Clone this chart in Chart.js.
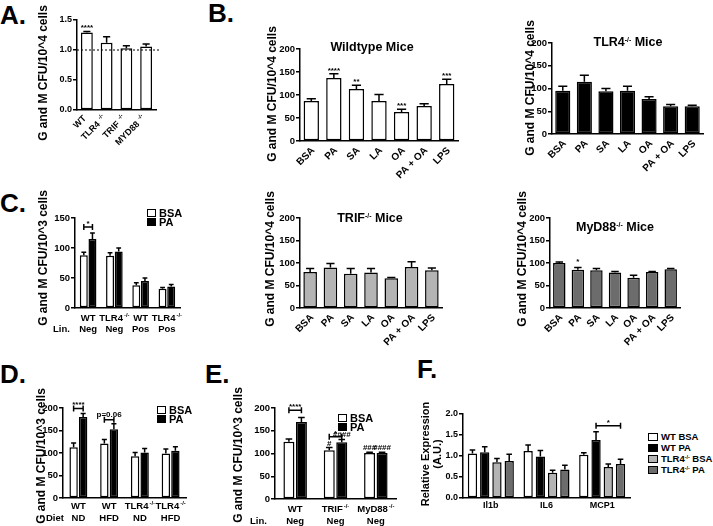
<!DOCTYPE html>
<html>
<head>
<meta charset="utf-8">
<script src="https://cdn.jsdelivr.net/npm/chart.js@4.4.0/dist/chart.umd.min.js"></script>
<style>
html, body { margin: 0; padding: 0; background: #fff; }
#fig { position: relative; width: 713px; height: 526px; overflow: hidden;
       font-family: "Liberation Sans", Arial, sans-serif; font-weight: bold; color: #000; }
#fig canvas { position: absolute; }
.t { position: absolute; white-space: nowrap; line-height: 1; }
.letter { font-size: 26px; transform: translateY(-50%); }
.ytitle { font-size: 12px; transform: translate(-50%, -50%) rotate(-90deg); }
.ptitle { font-size: 12.5px; transform: translate(-50%, -50%); }
.lab { font-size: 9.5px; transform: translateY(-50%); }
.leg { font-size: 11px; transform: translateY(-50%); }
.box { position: absolute; border: 1.5px solid #000; box-sizing: border-box; }
sup { font-size: 0.55em; vertical-align: 0.6em; line-height: 0; }
</style>
</head>
<body>
<div id="fig"></div>
<script>
// ---- data ----  ("^" in a label marks a small raised part)
// A
const aLabels = ['WT', 'TLR4^-/-', 'TRIF^-/-', 'MYD88^-/-'];
const aValues = [1.29, 1.12, 1.03, 1.06];
const aErrors = [0.02, 0.10, 0.04, 0.04];
const aStars = ['****', '', '', ''];
const aRefLine = 1.0;

// B (fatty acid treatments, per genotype)
const treatments = ['BSA', 'PA', 'SA', 'LA', 'OA', 'PA + OA', 'LPS'];
const wtValues = [87, 137, 113, 87, 63, 76, 124];
const wtErrors = [5, 9, 8, 14, 6, 5, 10];
const wtStars = ['', '****', '**', '', '***', '', '***'];
const tlr4Values = [95, 115, 94, 95, 77, 61, 61];
const tlr4Errors = [10, 14, 6, 10, 5, 4, 2];
const trifValues = [80, 90, 76, 79, 66, 91, 84];
const trifErrors = [8, 9, 12, 9, 2, 12, 5];
const myd88Values = [100, 85, 84, 79, 67, 80, 86];
const myd88Errors = [2, 5, 4, 2, 6, 1, 2];
const myd88Stars = ['', '*', '', '', '', '', ''];

// C
const cLabels = [['WT', 'Neg'], ['TLR4^-/-', 'Neg'], ['WT', 'Pos'], ['TLR4^-/-', 'Pos']];
const cBsa = [88, 87, 38, 32];
const cBsaErr = [5, 5, 4, 2];
const cPa = [115, 94, 45, 36];
const cPaErr = [10, 6, 5, 3];

// D
const dLabels = [['WT', 'ND'], ['WT', 'HFD'], ['TLR4^-/-', 'ND'], ['TLR4^-/-', 'HFD']];
const dBsa = [113, 121, 93, 99];
const dBsaErr = [9, 9, 8, 10];
const dPa = [180, 153, 101, 105];
const dPaErr = [8, 12, 9, 9];

// E
const eLabels = [['WT', 'Neg'], ['TRIF^-/-', 'Neg'], ['MyD88^-/-', 'Neg']];
const eBsa = [126, 107, 101];
const eBsaErr = [6, 6, 2];
const ePa = [169, 125, 101];
const ePaErr = [10, 6, 2];

// F
const genes = ['Il1b', 'IL6', 'MCP1'];
const fWtBsa = [1.06, 1.12, 1.03];
const fWtBsaErr = [0.08, 0.14, 0.05];
const fWtPa = [1.09, 0.99, 1.38];
const fWtPaErr = [0.13, 0.14, 0.20];
const fTlrBsa = [0.85, 0.60, 0.74];
const fTlrBsaErr = [0.09, 0.06, 0.07];
const fTlrPa = [0.88, 0.68, 0.81];
const fTlrPaErr = [0.16, 0.10, 0.11];

const WHITE = '#ffffff', BLACK = '#000000', LIGHT = '#b4b4b4', DARK = '#6c6c6c';

Chart.defaults.font.family = '"Liberation Sans", Arial, sans-serif';
Chart.defaults.font.weight = 'bold';
Chart.defaults.color = '#000';

const fig = document.getElementById('fig');
const PAD_T = 12;
const FONT = '"Liberation Sans", Arial';

// error bars, stars, brackets, reference line
const marksPlugin = {
    id: 'marks',
    afterDatasetsDraw(chart, args, opts) {
        const ctx = chart.ctx;
        const ys = chart.scales.y;
        const area = chart.chartArea;
        ctx.save();
        ctx.strokeStyle = '#000';
        ctx.fillStyle = '#000';
        ctx.lineWidth = 1.5;

        chart.data.datasets.forEach((ds, di) => {
            if (!ds.errors) return;
            chart.getDatasetMeta(di).data.forEach((bar, i) => {
                const top = ys.getPixelForValue(ds.data[i] + ds.errors[i]);
                const half = bar.width * 0.3;
                ctx.beginPath();
                ctx.moveTo(bar.x, bar.y);
                ctx.lineTo(bar.x, top);
                ctx.moveTo(bar.x - half, top);
                ctx.lineTo(bar.x + half, top);
                ctx.stroke();
            });
        });

        if (opts.refLine != null) {
            const y = ys.getPixelForValue(opts.refLine);
            ctx.lineWidth = 1;
            ctx.setLineDash([2, 2]);
            ctx.beginPath();
            ctx.moveTo(area.left, y);
            ctx.lineTo(area.right + 3, y);
            ctx.stroke();
            ctx.setLineDash([]);
            ctx.lineWidth = 1.5;
        }

        ctx.textAlign = 'center';
        ctx.textBaseline = 'alphabetic';
        (opts.stars || []).forEach(s => {
            const ds = chart.data.datasets[s.d];
            const bar = chart.getDatasetMeta(s.d).data[s.i];
            const top = ys.getPixelForValue(ds.data[s.i] + (ds.errors ? ds.errors[s.i] : 0));
            ctx.font = 'bold ' + (s.size || 8) + 'px ' + FONT;
            ctx.fillText(s.text, bar.x, top - (s.gap != null ? s.gap : 1));
        });

        (opts.brackets || []).forEach(b => {
            const x1 = chart.getDatasetMeta(b.a[0]).data[b.a[1]].x;
            const x2 = chart.getDatasetMeta(b.b[0]).data[b.b[1]].x;
            const y = ys.getPixelForValue(b.v);
            ctx.beginPath();
            ctx.moveTo(x1, y); ctx.lineTo(x2, y);
            ctx.moveTo(x1, y - 3); ctx.lineTo(x1, y + 3);
            ctx.moveTo(x2, y - 3); ctx.lineTo(x2, y + 3);
            ctx.stroke();
            ctx.font = 'bold ' + (b.size || 8) + 'px ' + FONT;
            ctx.fillText(b.text, (x1 + x2) / 2, y - (b.gap != null ? b.gap : 1));
        });
        ctx.restore();
    }
};

// category labels (straight or at 45 degrees) with a small raised "-/-",
// placed at the x scale's tick pixels
const supLabelsPlugin = {
    id: 'supLabels',
    afterDraw(chart, args, opts) {
        if (!opts.on) return;
        const ctx = chart.ctx, xs = chart.scales.x;
        const size = opts.size || 9.5;
        const font = 'bold ' + size + 'px ' + FONT;
        const supFont = 'bold ' + (size * 0.62) + 'px ' + FONT;
        ctx.save();
        ctx.fillStyle = '#000';
        ctx.textBaseline = 'middle';
        ctx.textAlign = 'left';
        chart.data.labels.forEach((label, i) => {
            const cx = xs.getPixelForTick(i);
            [].concat(label).forEach((row, r) => {
                const parts = row.split('^');
                ctx.font = font;
                const w0 = ctx.measureText(parts[0]).width;
                let w1 = 0;
                if (parts[1]) { ctx.font = supFont; w1 = ctx.measureText(parts[1]).width + (opts.supGap || 1); }
                const raise = size * 0.32;
                if (opts.rot) {
                    ctx.save();
                    ctx.translate(cx + (opts.dx || 0), xs.top + opts.first);
                    ctx.rotate(-Math.PI / 4);
                    ctx.font = font;
                    ctx.fillText(parts[0], -(w0 + w1), 0);
                    if (parts[1]) {
                        ctx.font = supFont;
                        ctx.fillText(parts[1], -w1 + (opts.supGap || 1), -raise);
                    }
                    ctx.restore();
                } else {
                    const y = xs.top + opts.first + r * opts.gap;
                    const x = cx - (w0 + w1) / 2;
                    ctx.font = font;
                    ctx.fillText(parts[0], x, y);
                    if (parts[1]) {
                        ctx.font = supFont;
                        ctx.fillText(parts[1], x + w0 + (opts.supGap || 1), y - raise);
                    }
                }
            });
        });
        ctx.restore();
    }
};

function place(g) {
    const c = document.createElement('canvas');
    const w = (g.x1 - g.x0) + g.padL + g.padR;
    const h = (g.yB - g.yT) + PAD_T + g.padB;
    c.width = w; c.height = h;
    c.style.left = (g.x0 - g.padL) + 'px';
    c.style.top = (g.yT - PAD_T) + 'px';
    c.style.width = w + 'px';
    c.style.height = h + 'px';
    fig.appendChild(c);
    return c;
}

function barSet(data, errors, color, barPct, catPct) {
    return {
        data: data, errors: errors,
        backgroundColor: color, borderColor: '#000', borderWidth: 1.5, borderSkipped: false,
        barPercentage: barPct, categoryPercentage: catPct
    };
}

function barChart(g, labels, datasets, marks) {
    const canvas = place(g);
    return new Chart(canvas, {
        type: 'bar',
        data: { labels: labels, datasets: datasets },
        options: {
            responsive: false,
            animation: false,
            devicePixelRatio: 1,
            layout: { padding: { top: PAD_T, right: g.padR, left: 0, bottom: 0 } },
            plugins: {
                legend: { display: false }, tooltip: { enabled: false },
                marks: marks || {},
                supLabels: g.sup || {}
            },
            scales: {
                x: {
                    grid: { display: false, drawTicks: false },
                    border: { color: '#000', width: 1.5 },
                    ticks: Object.assign({
                        color: '#000', autoSkip: false, padding: 3,
                        minRotation: 0, maxRotation: 0,
                        display: !g.sup,
                        font: { size: 10, weight: 'bold', lineHeight: 1.1 }
                    }, g.xTicks || {}),
                    afterFit: s => { s.height = g.padB; }
                },
                y: {
                    min: 0, max: g.yMax,
                    grid: { drawOnChartArea: false, tickLength: 4, color: '#000', lineWidth: 1.5 },
                    border: { color: '#000', width: 1.5 },
                    ticks: {
                        stepSize: g.yStep, color: '#000', padding: 1,
                        font: { size: g.yFont || 9.5, weight: 'bold' },
                        callback: g.dec ? (v => Number(v).toFixed(1)) : (v => v)
                    },
                    afterFit: s => { s.width = g.padL; }
                }
            }
        },
        plugins: [marksPlugin, supLabelsPlugin]
    });
}

function starList(stars, d) {
    const out = [];
    stars.forEach((t, i) => { if (t) out.push({ d: d, i: i, text: t }); });
    return out;
}

// A
barChart({ x0: 77, x1: 156, yT: 20, yB: 110, padL: 36, padR: 6, padB: 55, yMax: 1.5, yStep: 0.5, dec: true, yFont: 9,
           sup: { on: true, rot: true, first: 7, dx: -2, size: 9, supGap: 3 } },
    aLabels, [barSet(aValues, aErrors, WHITE, 0.6, 1)],
    { refLine: aRefLine, stars: starList(aStars, 0) });

// B
const bGeo = { padL: 36, padR: 8, padB: 45, yMax: 200, yStep: 50,
               sup: { on: true, rot: true, first: 8, dx: 2, size: 10 } };
barChart(Object.assign({ x0: 300, x1: 458, yT: 49, yB: 141 }, bGeo),
    treatments, [barSet(wtValues, wtErrors, WHITE, 0.68, 1)], { stars: starList(wtStars, 0) });
barChart(Object.assign({ x0: 552, x1: 703, yT: 43, yB: 134 }, bGeo),
    treatments, [barSet(tlr4Values, tlr4Errors, BLACK, 0.7, 1)]);
barChart(Object.assign({ x0: 300, x1: 442, yT: 218, yB: 308 }, bGeo),
    treatments, [barSet(trifValues, trifErrors, LIGHT, 0.67, 1)]);
barChart(Object.assign({ x0: 550, x1: 680, yT: 218, yB: 308 }, bGeo),
    treatments, [barSet(myd88Values, myd88Errors, DARK, 0.67, 1)],
    { stars: starList(myd88Stars, 0).map(s => Object.assign(s, { gap: 4 })) });

// C
barChart({ x0: 75, x1: 180, yT: 218, yB: 308, padL: 36, padR: 14, padB: 32, yMax: 150, yStep: 50,
           sup: { on: true, first: 10, gap: 11.5 } },
    cLabels, [barSet(cBsa, cBsaErr, WHITE, 0.92, 0.66), barSet(cPa, cPaErr, BLACK, 0.92, 0.66)],
    { brackets: [{ a: [0, 0], b: [1, 0], v: 135, text: '*' }] });

// D
barChart({ x0: 63, x1: 186, yT: 408, yB: 498, padL: 30, padR: 14, padB: 28, yMax: 200, yStep: 50,
           sup: { on: true, first: 8.5, gap: 11.5 } },
    dLabels, [barSet(dBsa, dBsaErr, WHITE, 0.88, 0.62), barSet(dPa, dPaErr, BLACK, 0.88, 0.62)],
    { brackets: [{ a: [0, 0], b: [1, 0], v: 199, text: '****' },
                 { a: [0, 1], b: [1, 1], v: 174, text: 'p=0.06', gap: 3 }] });

// E
barChart({ x0: 275, x1: 396, yT: 408, yB: 499, padL: 36, padR: 16, padB: 27, yMax: 200, yStep: 50,
           sup: { on: true, first: 10, gap: 12 } },
    eLabels, [barSet(eBsa, eBsaErr, WHITE, 0.88, 0.62), barSet(ePa, ePaErr, BLACK, 0.88, 0.62)],
    { brackets: [{ a: [0, 0], b: [1, 0], v: 195, text: '****' },
                 { a: [0, 1], b: [1, 1], v: 137, text: '*' }],
      stars: [{ d: 0, i: 1, text: '#', gap: 2 }, { d: 1, i: 1, text: '####', gap: 2 },
              { d: 0, i: 2, text: '###', gap: 2 }, { d: 1, i: 2, text: '####', gap: 2 }] });

// F
barChart({ x0: 463, x1: 630, yT: 414, yB: 498, padL: 34, padR: 6, padB: 16, yMax: 2, yStep: 0.5, dec: true, yFont: 9,
           xTicks: { padding: 2, font: { size: 9, weight: 'bold' } } },
    genes, [barSet(fWtBsa, fWtBsaErr, WHITE, 0.76, 0.88), barSet(fWtPa, fWtPaErr, BLACK, 0.76, 0.88),
            barSet(fTlrBsa, fTlrBsaErr, LIGHT, 0.76, 0.88), barSet(fTlrPa, fTlrPaErr, DARK, 0.76, 0.88)],
    { brackets: [{ a: [1, 2], b: [3, 2], v: 1.72, text: '*' }] });

// ---- html text: letters, titles, legends ----
function text(cls, html, x, y, extra) {
    const d = document.createElement('div');
    d.className = 't ' + cls;
    d.innerHTML = html;
    d.style.left = x + 'px';
    d.style.top = y + 'px';
    if (extra) Object.assign(d.style, extra);
    fig.appendChild(d);
    return d;
}
function box(x, y, w, h, color) {
    const d = document.createElement('div');
    d.className = 'box';
    Object.assign(d.style, { left: x + 'px', top: y + 'px', width: w + 'px', height: h + 'px', background: color });
    fig.appendChild(d);
}

[['A.', 0, 15], ['B.', 208, 12.5], ['C.', 0, 202.5], ['D.', 0, 373.5], ['E.', 205, 373.5], ['F.', 417, 369]]
    .forEach(l => text('letter', l[0], l[1], l[2]));

const cfu4 = 'G and M CFU/10^4 cells', cfu3 = 'G and M CFU/10^3 cells';
[[cfu4, 43, 73], [cfu4, 272, 94], [cfu4, 530, 88], [cfu3, 43, 258], [cfu4, 270, 259],
 [cfu4, 522, 259], [cfu3, 41, 456], [cfu3, 238, 455]].forEach(t => text('ytitle', t[0], t[1], t[2]));
text('ytitle', 'Relative Expression', 425, 454, { fontSize: '11px' });
text('ytitle', '(A.U.)', 437, 454, { fontSize: '11px' });

text('ptitle', 'Wildtype Mice', 372, 47);
text('ptitle', 'TLR4<sup>-/-</sup> Mice', 628, 42);
text('ptitle', 'TRIF<sup>-/-</sup> Mice', 370, 218);
text('ptitle', 'MyD88<sup>-/-</sup> Mice', 615, 227);

text('lab', 'Lin.', 53, 329);
text('lab', 'Diet', 46, 518);
text('lab', 'Lin.', 250, 521);

// legends C, D, E
[[147, 213], [157, 410], [338, 418]].forEach(p => {
    box(p[0], p[1] - 4, 9, 8, WHITE);
    box(p[0], p[1] + 5, 9, 8, BLACK);
    text('leg', 'BSA', p[0] + 12, p[1]);
    text('leg', 'PA', p[0] + 12, p[1] + 9);
});
// legend F
[['WT BSA', WHITE], ['WT PA', BLACK], ['TLR4<sup>-/-</sup> BSA', LIGHT], ['TLR4<sup>-/-</sup> PA', DARK]]
    .forEach((l, i) => {
        const y = 437 + i * 11;
        box(648, y - 4, 10, 8, l[1]);
        text('leg', l[0], 661, y, { fontSize: '9.5px' });
    });
</script>
</body>
</html>
